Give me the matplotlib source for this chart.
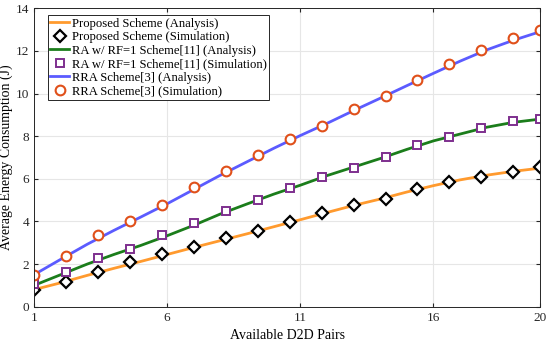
import matplotlib.pyplot as plt

# analysis curves (integer number of D2D pairs)
x_ana = list(range(1, 21))
prop_ana = [0.8, 1.12, 1.47, 1.8, 2.12, 2.45, 2.78, 3.1, 3.42, 3.75,
            4.08, 4.42, 4.75, 5.05, 5.38, 5.68, 5.95, 6.17, 6.35, 6.5]
ra_ana = [1.0, 1.5, 2.0, 2.45, 2.87, 3.33, 3.82, 4.35, 4.82, 5.28,
          5.7, 6.15, 6.55, 6.95, 7.38, 7.78, 8.1, 8.42, 8.65, 8.8]
rra_ana = [1.5, 2.22, 2.93, 3.58, 4.2, 4.83, 5.5, 6.17, 6.8, 7.43,
           8.03, 8.6, 9.2, 9.78, 10.37, 10.95, 11.52, 12.05, 12.5, 12.9]

# simulation points
x_sim = [1, 2.2, 3.4, 4.6, 5.8, 7, 8.2, 9.4, 10.6, 11.8, 13, 14.2, 15.4, 16.6, 17.8, 19, 20]
prop_sim = [0.78, 1.17, 1.61, 2.08, 2.47, 2.82, 3.23, 3.57, 3.98, 4.41,
            4.77, 5.07, 5.51, 5.84, 6.1, 6.34, 6.57]
ra_sim = [1.07, 1.61, 2.27, 2.72, 3.35, 3.91, 4.51, 5.0, 5.57, 6.1,
          6.5, 7.01, 7.58, 7.97, 8.4, 8.69, 8.81]
rra_sim = [1.49, 2.4, 3.37, 4.0, 4.79, 5.63, 6.37, 7.1, 7.87, 8.5,
           9.28, 9.9, 10.63, 11.38, 12.04, 12.63, 12.99]

plt.rcParams['font.family'] = ['Liberation Serif', 'DejaVu Serif']

fig = plt.figure(figsize=(5.5, 3.43), dpi=100)
ax = fig.add_axes([34 / 550, 1 - 306.7 / 343, 506 / 550, 298.4 / 343])

ax.plot(x_ana, prop_ana, color='#FF9A2E', lw=2, label='Proposed Scheme (Analysis)')
ax.plot(x_sim, prop_sim, ls='none', marker='D', ms=6, mfc='white', mec='black',
        mew=1.6, label='Proposed Scheme (Simulation)')
ax.plot(x_ana, ra_ana, color='#1B7D1B', lw=2, label='RA w/ RF=1 Scheme[11] (Analysis)')
ax.plot(x_sim, ra_sim, ls='none', marker='s', ms=5.2, mfc='white', mec='#7E2F8E',
        mew=1.4, label='RA w/ RF=1 Scheme[11] (Simulation)')
ax.plot(x_ana, rra_ana, color='#5B5BFF', lw=2, label='RRA Scheme[3] (Analysis)')
ax.plot(x_sim, rra_sim, ls='none', marker='o', ms=7, mfc='white', mec='#E0501A',
        mew=1.5, label='RRA Scheme[3] (Simulation)')

ax.set_xlim(1, 20)
ax.set_ylim(0, 14)
ax.set_xticks([1, 6, 11, 16, 20])
ax.set_yticks(range(0, 15, 2))
ax.tick_params(direction='in', top=True, right=True, labelsize=9.5, colors='#262626',
               length=3)
ax.grid(True, color='#e6e6e6', lw=0.8)
ax.set_axisbelow(True)
for s in ax.spines.values():
    s.set_color('#262626')
    s.set_linewidth(0.7)

ax.set_xlabel('Available D2D Pairs', fontsize=10, labelpad=4)
ax.set_ylabel('Average Energy Consumption (J)', fontsize=10, labelpad=2)

leg = ax.legend(loc='upper left', fontsize=9.1, handlelength=1.5, handletextpad=0.2,
                borderpad=0.2, labelspacing=0.12, borderaxespad=0.3, fancybox=False,
                framealpha=1, bbox_to_anchor=(0.02, 0.99))
leg.get_frame().set_edgecolor('#262626')
leg.get_frame().set_linewidth(0.7)

fig.savefig('out.png', dpi=100)
